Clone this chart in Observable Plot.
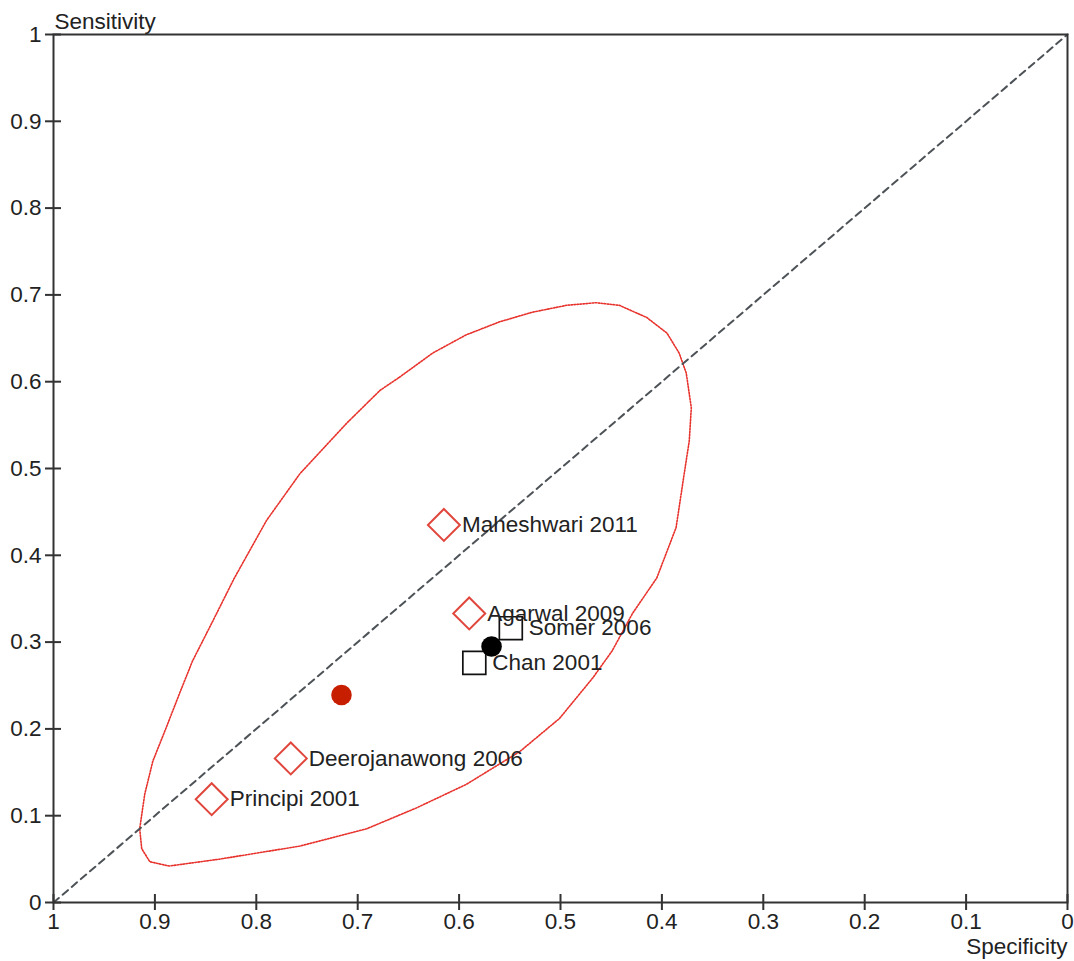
<!DOCTYPE html>
<html><head><meta charset="utf-8">
<script src="https://cdn.jsdelivr.net/npm/d3@7"></script>
<script src="https://cdn.jsdelivr.net/npm/@observablehq/plot@0.6"></script>
<style>body{margin:0;background:#fff;} #chart svg{display:block}</style>
</head><body><div id="chart"></div>
<script>
// Tick values
const xTicks = [1, 0.9, 0.8, 0.7, 0.6, 0.5, 0.4, 0.3, 0.2, 0.1, 0];
const yTicks = [0, 0.1, 0.2, 0.3, 0.4, 0.5, 0.6, 0.7, 0.8, 0.9, 1];

// Individual studies
const studyNames = ["Maheshwari 2011", "Agarwal 2009", "Deerojanawong 2006", "Principi 2001", "Somer 2006", "Chan 2001"];
const studySpec  = [0.615, 0.590, 0.766, 0.844, 0.549, 0.585];
const studySens  = [0.435, 0.333, 0.166, 0.119, 0.316, 0.276];
const studyGroup = ["diamond", "diamond", "diamond", "diamond", "square", "square"];

// Summary points
const summaryGroup = ["red", "black"];
const summarySpec  = [0.716, 0.568];
const summarySens  = [0.239, 0.295];

// Confidence region outline
const ellipseSpec = [.659,.626,.593,.560,.528,.494,.465,.442,.415,.395,.383,.376,.371,.373,.378,.386,.405,.429,.449,.468,.501,.540,.593,.642,.691,.757,.836,.886,.905,.913,.915,.910,.902,.889,.876,.863,.843,.822,.790,.757,.711,.678];
const ellipseSens = [.605,.633,.654,.669,.680,.688,.691,.688,.674,.656,.633,.610,.570,.532,.494,.432,.374,.333,.290,.259,.212,.174,.136,.109,.085,.065,.050,.042,.047,.062,.085,.125,.163,.201,.240,.278,.324,.373,.440,.494,.552,.590];

// Chance diagonal
const diagSpec = [1, 0];
const diagSens = [0, 1];

const studies = studyNames.map((name, i) => ({name, spec: studySpec[i], sens: studySens[i], group: studyGroup[i]}));
const summary = summaryGroup.map((g, i) => ({group: g, spec: summarySpec[i], sens: summarySens[i]}));
const ellipse = ellipseSpec.map((s, i) => ({spec: s, sens: ellipseSens[i]}));
const diagonal = diagSpec.map((s, i) => ({spec: s, sens: diagSens[i]}));

const FONT = "'Liberation Sans', Arial, Helvetica, sans-serif";
const FS = 22.5;

const plot = Plot.plot({
  width: 1074,
  height: 961,
  marginLeft: 53,
  marginRight: 7,
  marginTop: 34,
  marginBottom: 59,
  style: {fontFamily: FONT, fontSize: FS + "px", background: "white", color: "#222"},
  x: {domain: [1, 0]},
  y: {domain: [0, 1]},
  marks: [
    Plot.line(ellipse, {x: "spec", y: "sens", curve: "linear-closed", stroke: "#e8322c", strokeWidth: 1.6, strokeDasharray: "1.5,1.5"}),
    Plot.line(diagonal, {x: "spec", y: "sens", stroke: "#4d5257", strokeWidth: 2, strokeDasharray: "7,5"}),
    Plot.frame({stroke: "#333", strokeWidth: 2}),
    Plot.ruleX(xTicks, {x: d => d, y1: 0, y2: 0, insetTop: -8, insetBottom: -8, stroke: "#333", strokeWidth: 2}),
    Plot.ruleY(yTicks, {y: d => d, x1: 1, x2: 1, insetLeft: -8, insetRight: -8, stroke: "#333", strokeWidth: 2}),
    Plot.axisX({ticks: xTicks, tickSize: 0, tickPadding: 11, tickFormat: d => String(d), label: null, fontSize: FS, fill: "#222"}),
    Plot.axisY({ticks: yTicks, tickSize: 0, tickPadding: 12, tickFormat: d => String(d), label: null, fontSize: FS, fill: "#222"}),
    Plot.text(["Sensitivity"], {frameAnchor: "top-left", text: d => d, textAnchor: "start", lineAnchor: "bottom", dx: 1, dy: -6, fontSize: FS, fill: "#222"}),
    Plot.text(["Specificity"], {frameAnchor: "bottom-right", text: d => d, textAnchor: "end", lineAnchor: "bottom", dy: 51, fontSize: FS, fill: "#222"}),
    Plot.dot(studies.filter(d => d.group === "diamond"), {x: "spec", y: "sens", symbol: "diamond2", r: 14.4, stroke: "#e0463c", strokeWidth: 2, fill: "white"}),
    Plot.dot(studies.filter(d => d.group === "square"), {x: "spec", y: "sens", symbol: "square2", r: 14.6, stroke: "#111", strokeWidth: 1.7, fill: "white"}),
    Plot.dot(summary, {x: "spec", y: "sens", r: 10.3, fill: d => d.group === "red" ? "#c81e00" : "#000", stroke: "none"}),
    Plot.text(studies, {x: "spec", y: "sens", text: "name", dx: 18, textAnchor: "start", fontSize: FS, fill: "#222"})
  ]
});
document.getElementById("chart").appendChild(plot);
</script>
</body></html>
